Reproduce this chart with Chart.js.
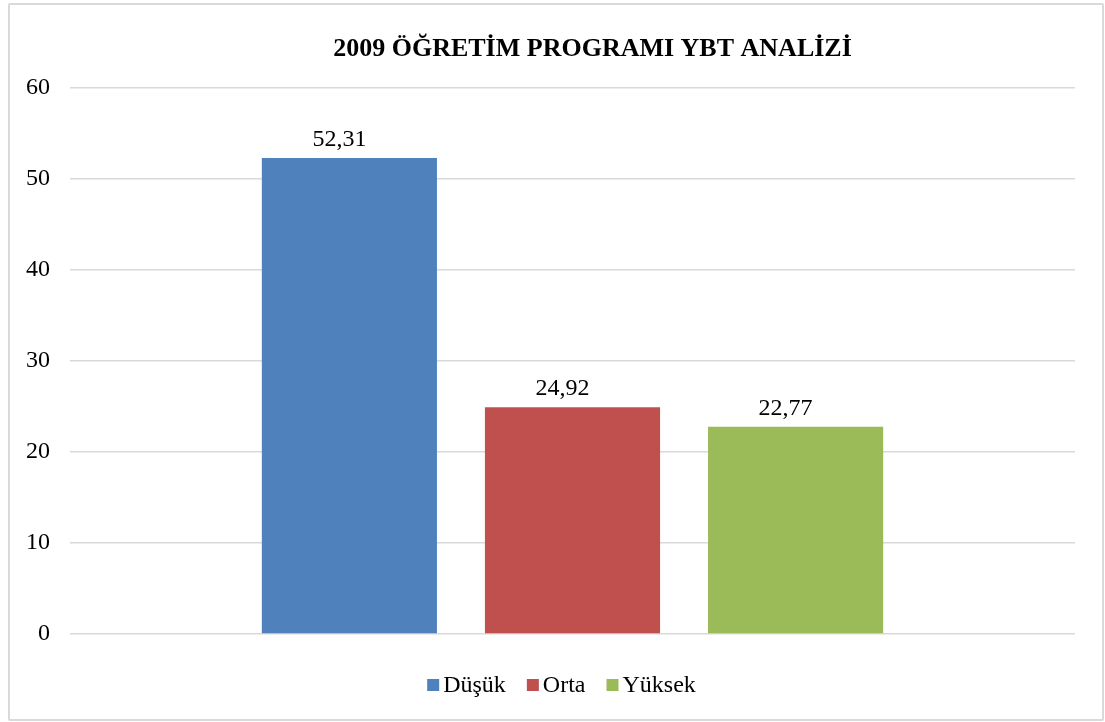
<!DOCTYPE html>
<html>
<head>
<meta charset="utf-8">
<script src="https://cdn.jsdelivr.net/npm/chart.js@4.4.0/dist/chart.umd.min.js"></script>
<style>
  body { margin: 0; background: #fff; }
  #frame {
    position: absolute; left: 8px; top: 3px;
    width: 1092px; height: 714px;
    border: 2px solid #d9d9d9; border-radius: 2px;
  }
  #wrap { position: absolute; left: 0; top: 0; width: 1105px; height: 722px; }
</style>
</head>
<body>
<div id="frame"></div>
<div id="wrap"><canvas id="chart" width="1105" height="722"></canvas></div>
<script>
const chartTitle = '2009 ÖĞRETİM PROGRAMI YBT ANALİZİ';
const seriesNames = ['Düşük', 'Orta', 'Yüksek'];
const seriesValues = [52.31, 24.92, 22.77];
const seriesColors = ['#4f81bd', '#c0504d', '#9bbb59'];
const yTicks = [0, 10, 20, 30, 40, 50, 60];

const serif = '"Liberation Serif", "Times New Roman", serif';

// title sits a bit right of centre in the original, so draw it here
const topTitle = {
    id: 'topTitle',
    afterDraw(chart) {
        const ctx = chart.ctx;
        ctx.save();
        ctx.font = 'bold 26px ' + serif;
        ctx.fillStyle = '#000';
        ctx.textAlign = 'center';
        ctx.textBaseline = 'alphabetic';
        ctx.fillText(chartTitle, 592.5, 56);
        ctx.restore();
    }
};

// values on top of bars, comma as decimal separator
const valueLabels = {
    id: 'valueLabels',
    afterDatasetsDraw(chart) {
        const ctx = chart.ctx;
        ctx.save();
        ctx.font = '24px ' + serif;
        ctx.fillStyle = '#000';
        ctx.textAlign = 'center';
        ctx.textBaseline = 'alphabetic';
        chart.data.datasets.forEach((ds, i) => {
            const bar = chart.getDatasetMeta(i).data[0];
            const txt = ds.data[0].toFixed(2).replace('.', ',');
            ctx.fillText(txt, bar.x - 10, bar.y - 12);
        });
        ctx.restore();
    }
};

// legend drawn like the Excel one: small square, tight gap
const bottomLegend = {
    id: 'bottomLegend',
    afterDraw(chart) {
        const ctx = chart.ctx;
        ctx.save();
        ctx.font = '24px ' + serif;
        ctx.textBaseline = 'middle';
        const box = 12, gap = 4, spacing = 21, cy = 685;
        const widths = chart.data.datasets.map(ds => box + gap + ctx.measureText(ds.label).width);
        const total = widths.reduce((a, b) => a + b, 0) + spacing * (widths.length - 1);
        let x = 561.5 - total / 2;
        chart.data.datasets.forEach((ds, i) => {
            ctx.fillStyle = ds.backgroundColor;
            ctx.fillRect(x, cy - box / 2, box, box);
            ctx.fillStyle = '#000';
            ctx.fillText(ds.label, x + box + gap, cy + 1);
            x += widths[i] + spacing;
        });
        ctx.restore();
    }
};

new Chart(document.getElementById('chart'), {
    type: 'bar',
    data: {
        labels: [''],
        datasets: seriesNames.map((name, i) => ({
            label: name,
            data: [seriesValues[i]],
            backgroundColor: seriesColors[i],
            borderWidth: 0,
            barPercentage: 0.785,
            categoryPercentage: 0.666
        }))
    },
    options: {
        responsive: false,
        animation: false,
        layout: { padding: { left: 0, right: 30, top: 88, bottom: 88 } },
        plugins: {
            legend: { display: false },
            tooltip: { enabled: false },
            title: { display: false }
        },
        scales: {
            x: { display: false },
            y: {
                min: 0,
                max: 60,
                afterBuildTicks: s => { s.ticks = yTicks.map(v => ({ value: v })); },
                afterFit: s => { s.width = 70; },
                border: { display: false },
                grid: { color: '#d9d9d9', lineWidth: 1.5, drawTicks: false },
                ticks: {
                    padding: 20,
                    color: '#000',
                    font: { family: serif, size: 24 }
                }
            }
        }
    },
    plugins: [topTitle, valueLabels, bottomLegend]
});
</script>
</body>
</html>
